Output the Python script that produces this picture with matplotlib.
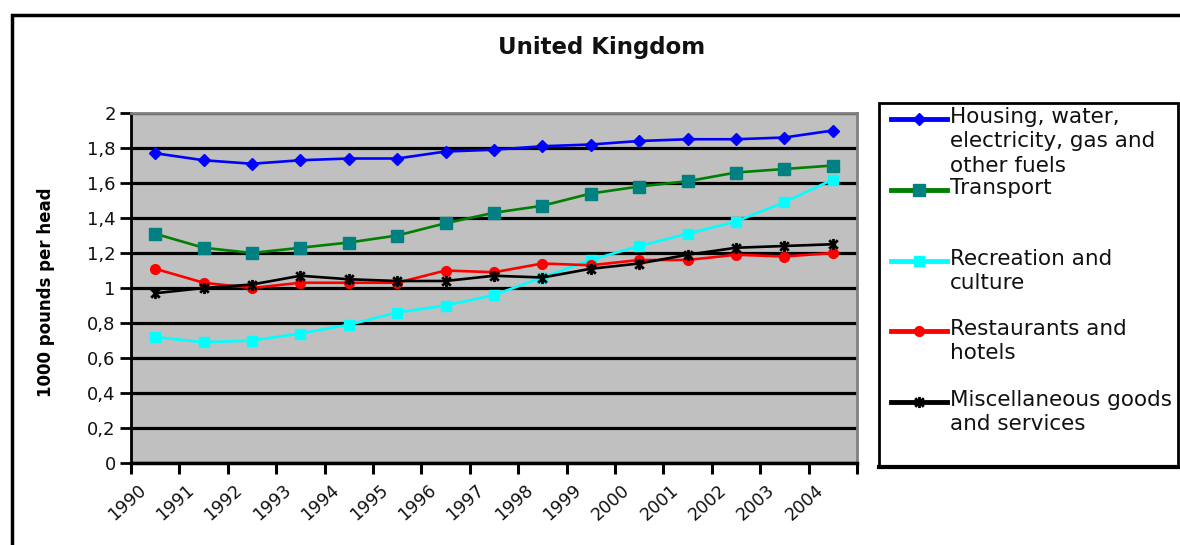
import numpy as np
import matplotlib.pyplot as plt
from matplotlib.lines import Line2D
from matplotlib.patches import Rectangle
from matplotlib.path import Path
from matplotlib.markers import MarkerStyle
from matplotlib.ticker import FixedLocator, FuncFormatter
import matplotlib.transforms as mtransforms

plt.rcParams['font.family'] = ['DejaVu Sans']

years = [str(y) for y in range(1990, 2005)]
housing = [1.77, 1.73, 1.71, 1.73, 1.74, 1.74, 1.78, 1.79, 1.81, 1.82, 1.84, 1.85, 1.85, 1.86, 1.90]
transport = [1.31, 1.23, 1.20, 1.23, 1.26, 1.30, 1.37, 1.43, 1.47, 1.54, 1.58, 1.61, 1.66, 1.68, 1.70]
recreation = [0.72, 0.69, 0.70, 0.74, 0.79, 0.86, 0.90, 0.96, 1.06, 1.16, 1.24, 1.31, 1.38, 1.49, 1.62]
restaurants = [1.11, 1.03, 1.00, 1.03, 1.03, 1.03, 1.10, 1.09, 1.14, 1.13, 1.16, 1.16, 1.19, 1.18, 1.20]
misc = [0.97, 1.00, 1.02, 1.07, 1.05, 1.04, 1.04, 1.07, 1.06, 1.11, 1.14, 1.19, 1.23, 1.24, 1.25]

labels = ['Housing, water,\nelectricity, gas and\nother fuels',
          'Transport',
          'Recreation and\nculture',
          'Restaurants and\nhotels',
          'Miscellaneous goods\nand services']

# asterisk marker: an X with a vertical bar through it
star = Path([(-1, -1), (1, 1), (-1, 1), (1, -1), (0, -1.3), (0, 1.3)],
            [Path.MOVETO, Path.LINETO, Path.MOVETO, Path.LINETO, Path.MOVETO, Path.LINETO])

styles = [
    dict(color='#0000ff', marker='D', ms=6.5, mfc='#0000ff', mec='#0000ff'),
    dict(color='#008000', marker='s', ms=8, mfc='#008080', mec='#008080'),
    dict(color='#00ffff', marker='s', ms=7.5, mfc='#00ffff', mec='#00ffff'),
    dict(color='#ff0000', marker='o', ms=7, mfc='#ff0000', mec='#ff0000'),
    dict(color='#000000', marker=MarkerStyle(star), ms=8, mfc='none', mec='#000000', mew=2),
]
series = [housing, transport, recreation, restaurants, misc]

fig = plt.figure(figsize=(11.8, 5.45), dpi=100)
W, H = 1180, 545
ax = fig.add_axes([131 / W, 1 - 463 / H, (857 - 131) / W, (463 - 113) / H])
ax.set_facecolor('#c0c0c0')

x = np.arange(len(years))
for vals, st in zip(series, styles):
    ax.plot(x, vals, lw=1.9, zorder=3, **st)

ax.set_xlim(-0.5, len(years) - 0.5)
ax.set_ylim(0, 2)
ax.set_yticks(np.arange(0, 2.01, 0.2))
ax.yaxis.set_major_formatter(FuncFormatter(lambda v, p: ('%g' % round(v, 1)).replace('.', ',')))
ax.yaxis.grid(True, color='black', lw=2.3)
ax.set_axisbelow(True)

ax.xaxis.set_major_locator(FixedLocator(np.arange(-0.5, len(years), 1.0)))
ax.xaxis.set_major_formatter(FuncFormatter(lambda v, p: ''))
ax.xaxis.set_minor_locator(FixedLocator(x))
ax.set_xticklabels(years, minor=True, rotation=42, ha='right', va='top',
                   rotation_mode='anchor', fontsize=12.5, color='#111111')
ax.tick_params(axis='x', which='minor', length=0, pad=13)
ax.tick_params(axis='x', which='major', length=8, width=2.2, direction='out', color='black')
ax.tick_params(axis='y', length=8, width=2, direction='out', labelsize=13, pad=3,
               labelcolor='#111111')
shift = mtransforms.ScaledTranslation(-18 / 100, 0, fig.dpi_scale_trans)
for lab in ax.xaxis.get_minorticklabels():
    lab.set_transform(lab.get_transform() + shift)

for side in ('top', 'right'):
    ax.spines[side].set_color('#808080')
    ax.spines[side].set_linewidth(2)
ax.spines['left'].set_linewidth(2)
ax.spines['bottom'].set_linewidth(2.5)

ax.set_ylabel('1000 pounds per head', fontsize=12, fontweight='bold', labelpad=12)
ax.yaxis.set_label_coords(55 / W, 1 - 292 / H, transform=fig.transFigure)

fig.text(602 / W, 1 - 47 / H, 'United Kingdom', ha='center', va='center',
         fontsize=16.5, fontweight='bold', color='#111111')

# outer chart frame (runs off the right and bottom edges)
fig.add_artist(Rectangle((12 / W, -0.2), 1.2, 1.2 - 15 / H, transform=fig.transFigure,
                         fill=False, ec='black', lw=2.5))

# legend box
fig.add_artist(Rectangle((879 / W, 1 - 467 / H), (1178 - 879) / W, (467 - 103) / H,
                         transform=fig.transFigure, fill=False, ec='black', lw=2))
fig.add_artist(Line2D([879 / W, 1178 / W], [1 - 467 / H] * 2, transform=fig.transFigure,
                      color='black', lw=3))
entry_y = [119, 190, 261, 331, 402]
for ey, lab, st in zip(entry_y, labels, styles):
    yy = 1 - ey / H
    fig.add_artist(Line2D([891 / W, 947 / W], [yy, yy], transform=fig.transFigure,
                          color=st['color'], lw=3.5))
    fig.add_artist(Line2D([919 / W], [yy], transform=fig.transFigure, color=st['color'],
                          marker=st['marker'], ms=st['ms'], mfc=st['mfc'], mec=st['mec'],
                          mew=st.get('mew', 1), lw=0))
    fig.text(950 / W, 1 - (ey - 12) / H, lab, ha='left', va='top', fontsize=15.5,
             linespacing=1.27, color='#111111')

fig.savefig('out.png', dpi=100)
